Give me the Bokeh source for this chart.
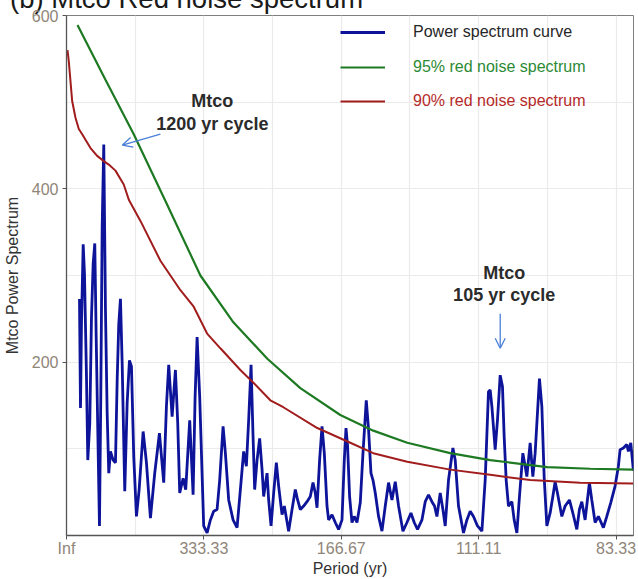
import numpy as np
from bokeh.plotting import figure
from bokeh.layouts import column
from bokeh.models import (Range1d, FixedTicker, Legend, LegendItem, Label,
                          Arrow, OpenHead, Div)
from bokeh.embed import file_html
from bokeh.resources import INLINE

# ---------------- data ----------------
# frequency in units of 1e-4 cycles / yr
power_freq_1e4 = [
    2.836, 3.055, 3.273, 3.644, 3.927, 4.364, 4.647, 5.084, 5.455, 5.825,
    6.174, 6.480, 6.829, 7.200, 7.484, 7.789, 8.138, 8.509, 8.880, 9.229,
    9.600, 10.189, 10.691, 11.062, 11.411, 11.782, 12.153, 12.720, 13.244, 13.745,
    14.182, 14.684, 15.273, 15.862, 16.734, 17.454, 18.327, 19.265, 20.291, 21.229,
    21.818, 22.320, 23.062, 23.782, 24.284, 24.720, 25.462, 26.029, 26.902, 27.643,
    28.080, 28.516, 29.083, 29.956, 30.698, 31.418, 32.138, 32.880, 33.447, 34.189,
    34.691, 35.411, 36.371, 37.243, 37.963, 38.683, 39.272, 39.774, 40.298, 40.734,
    41.083, 41.607, 42.174, 42.698, 43.047, 43.789, 44.138, 44.661, 45.229, 45.818,
    46.320, 47.061, 47.563, 48.501, 49.243, 49.963, 50.465, 51.054, 51.774, 52.516,
    53.236, 53.825, 54.327, 54.698, 55.265, 55.789, 56.290, 56.879, 57.228, 57.970,
    58.690, 59.410, 60.152, 60.654, 61.025, 61.374, 61.811, 62.334, 62.836, 63.425,
    64.145, 64.734, 65.454, 65.956, 66.480, 66.916, 67.418, 68.138, 68.880, 69.599,
    70.319, 71.061, 71.781, 72.501, 73.461, 74.334, 75.207, 75.927, 76.647, 77.607,
    78.327, 79.047, 79.788, 80.356, 80.879, 81.599, 82.188, 82.690, 83.410, 84.370,
    84.872, 85.592, 86.683, 87.424, 88.145, 88.865, 89.737, 90.697, 91.417, 92.137,
    92.508, 92.879, 93.599, 94.101, 94.690, 95.192, 95.563, 95.999, 96.501, 97.243,
    97.745, 98.334, 98.901, 99.643, 100.145, 100.516, 101.236, 101.825, 102.326, 103.265,
    103.789, 104.290, 104.879, 105.599, 106.188, 106.690, 107.192, 108.152, 108.872, 109.810,
    110.552, 111.425, 111.992, 112.516, 113.235, 113.737, 114.173, 114.697, 115.417, 116.137,
    117.228, 117.970, 118.842, 119.781, 120.501, 120.872, 121.592, 122.333, 122.682, 123.204,
    123.777,
]
power_values = [
    273, 147, 245, 336, 302, 183, 87, 130, 252, 314,
    337, 229, 122, 11, 160, 356, 451, 260, 141, 72,
    97, 87, 84, 179, 244, 273, 199, 51, 153, 202,
    195, 91, 22, 53, 120, 84, 20, 72, 118, 61,
    149, 197, 137, 191, 130, 49, 66, 53, 133, 47,
    160, 229, 160, 11, 3, 18, 28, 30, 64, 126,
    95, 41, 18, 9, 53, 97, 80, 133, 197, 114,
    53, 87, 112, 76, 45, 72, 41, 11, 49, 84,
    57, 24, 34, 5, 30, 53, 41, 30, 34, 39,
    45, 61, 49, 32, 87, 126, 95, 34, 18, 24,
    15, 7, 18, 87, 124, 103, 45, 15, 22, 15,
    38, 95, 156, 122, 72, 64, 49, 22, 5, 34,
    61, 41, 62, 34, 5, 15, 26, 15, 7, 18,
    39, 47, 39, 34, 22, 49, 30, 11, 64, 101,
    87, 34, 3, 18, 28, 22, 11, 5, 64, 166,
    168, 149, 99, 133, 185, 172, 114, 64, 34, 39,
    18, 3, 45, 95, 80, 68, 107, 68, 95, 181,
    149, 68, 11, 26, 45, 62, 49, 22, 34, 41,
    26, 7, 30, 39, 18, 41, 61, 41, 15, 22,
    9, 22, 38, 57, 80, 99, 101, 105, 97, 107,
    75,
]

red90_freq_1e4 = [0.218, 0.502, 1.244, 1.964, 2.684, 3.425, 5.236, 6.698, 8.138, 9.229,
                  10.691, 12.502, 13.636, 16.145, 20.509, 24.873, 27.774, 30.698, 33.600,
                  37.963, 40.865, 44.509, 47.345, 54.763, 61.963, 66.981, 74.399, 83.781,
                  92.508, 101.236, 112.145, 123.708]
red90_values = [560, 547, 501, 482, 469, 463, 447, 438, 432, 428,
                421, 405, 387, 363, 317, 283, 264, 233, 216,
                191, 176, 156, 148, 124, 107, 95, 85, 76,
                70, 64, 61, 60]

red95_freq_1e4 = [2.400, 8.509, 14.684, 21.600, 29.236, 36.436, 43.854, 51.054, 59.781,
                  66.981, 74.399, 83.781, 92.508, 104.945, 114.327, 123.708]
red95_values = [589, 526, 463, 386, 300, 246, 204, 170, 139,
                121, 107, 95, 87, 79, 77, 76]

x_tick_freqs = [0.0, 0.003, 0.006, 0.009, 0.012]
x_tick_labels = ["Inf", "333.33", "166.67", "111.11", "83.33"]
x_minor_freqs = [0.0015, 0.0045, 0.0075, 0.0105]
y_ticks = [200, 400, 600]
y_minor = [100, 300, 500]

series_names = ["Power spectrum curve", "95% red noise spectrum", "90% red noise spectrum"]
title_text = "(b) Mtco Red noise spectrum"

# ---------------- style ----------------
BLUE = "#0d1499"
GREEN = "#1d7a22"
RED = "#a11d1d"
FONT = "Liberation Sans"

# ---------------- title strip (title is cut off at the top, as in the original) ----
title_div = Div(
    text=("<div style=\"font-family:'Liberation Sans';font-size:27.5px;"
          "line-height:27.5px;color:#1a1a1a;white-space:nowrap;"
          "position:relative;top:-15px;left:10px;margin:0;padding:0\">"
          + title_text + "</div>"),
    width=638, height=6, margin=0,
    styles={"overflow": "visible"})

# ---------------- main figure ----------------
p = figure(width=638, height=573, output_backend="svg", toolbar_location=None,
           x_range=Range1d(0, 0.01238), y_range=Range1d(0, 600),
           min_border_left=66, min_border_right=5, min_border_top=9,
           min_border_bottom=43, background_fill_color="white",
           border_fill_alpha=0, margin=0)

p.outline_line_color = "#7f7f7f"
p.outline_line_width = 1

p.xaxis.ticker = FixedTicker(ticks=x_tick_freqs, minor_ticks=x_minor_freqs)
p.xaxis.major_label_overrides = {t: l for t, l in zip(x_tick_freqs, x_tick_labels)}
p.yaxis.ticker = FixedTicker(ticks=y_ticks, minor_ticks=y_minor)

for ax in (p.xaxis[0], p.yaxis[0]):
    ax.axis_line_color = "#555555"
    ax.axis_line_width = 1.3
    ax.major_tick_line_color = "#555555"
    ax.major_tick_out = 4
    ax.major_tick_in = 0
    ax.minor_tick_line_color = None
    ax.major_label_text_font = FONT
    ax.major_label_text_font_size = "16px"
    ax.major_label_text_color = "#8f8579"
    ax.axis_label_text_font = FONT
    ax.axis_label_text_font_size = "16px"
    ax.axis_label_text_font_style = "normal"
    ax.axis_label_text_color = "#333333"

p.xaxis.axis_label = "Period (yr)"
p.xaxis.major_label_standoff = 0
p.xaxis.axis_label_standoff = 0
p.yaxis.axis_label = "Mtco Power Spectrum"
p.yaxis.major_label_standoff = 4
p.yaxis.axis_label_standoff = 8

for g in (p.xgrid[0], p.ygrid[0]):
    g.grid_line_color = "#ebebeb"
    g.grid_line_width = 1.2
    g.minor_grid_line_color = "#ebebeb"
    g.minor_grid_line_width = 1.2

power_freq = np.array(power_freq_1e4) * 1e-4
red90_freq = np.array(red90_freq_1e4) * 1e-4
red95_freq = np.array(red95_freq_1e4) * 1e-4

r_blue = p.line(power_freq, power_values, line_color=BLUE, line_width=2.8)
r_green = p.line(red95_freq, red95_values, line_color=GREEN, line_width=2.2)
r_red = p.line(red90_freq, red90_values, line_color=RED, line_width=2.0)

# legends (one per entry, so each label keeps its own colour)
legend_specs = [
    (series_names[0], r_blue, "#262626", 493),
    (series_names[1], r_green, "#2c8a35", 458),
    (series_names[2], r_red, "#b52a2a", 424),
]
for name, rend, col, ypos in legend_specs:
    leg = Legend(items=[LegendItem(label=name, renderers=[rend])],
                 location=(274, ypos), padding=0, margin=0, spacing=0,
                 glyph_width=45, glyph_height=20, label_height=20,
                 label_standoff=28, label_text_font=FONT,
                 label_text_font_size="16px", label_text_color=col,
                 border_line_alpha=0, background_fill_alpha=0)
    p.add_layout(leg)

# annotations
ANN = "#2b2b2b"
ARROW = "#4a7fd8"
p.add_layout(Label(x=0.003185, y=501, text="Mtco", text_align="center",
                   text_baseline="middle", text_font=FONT, text_font_size="18px",
                   text_font_style="bold", text_color=ANN))
p.add_layout(Label(x=0.003185, y=475, text="1200 yr cycle", text_align="center",
                   text_baseline="middle", text_font=FONT, text_font_size="18px",
                   text_font_style="bold", text_color=ANN))
p.add_layout(Arrow(x_start=0.00205, y_start=463, x_end=0.00122, y_end=450.5,
                   line_color=ARROW, line_width=1.3,
                   end=OpenHead(size=10, line_color=ARROW, line_width=1.3)))

p.add_layout(Label(x=0.009556, y=303, text="Mtco", text_align="center",
                   text_baseline="middle", text_font=FONT, text_font_size="18px",
                   text_font_style="bold", text_color=ANN))
p.add_layout(Label(x=0.009556, y=278, text="105 yr cycle", text_align="center",
                   text_baseline="middle", text_font=FONT, text_font_size="18px",
                   text_font_style="bold", text_color=ANN))
p.add_layout(Arrow(x_start=0.00947, y_start=256, x_end=0.00947, y_end=216,
                   line_color=ARROW, line_width=1.3,
                   end=OpenHead(size=10, line_color=ARROW, line_width=1.3)))

layout = column(title_div, p, spacing=0, margin=0)
open("out.html", "w").write(file_html(layout, INLINE))
